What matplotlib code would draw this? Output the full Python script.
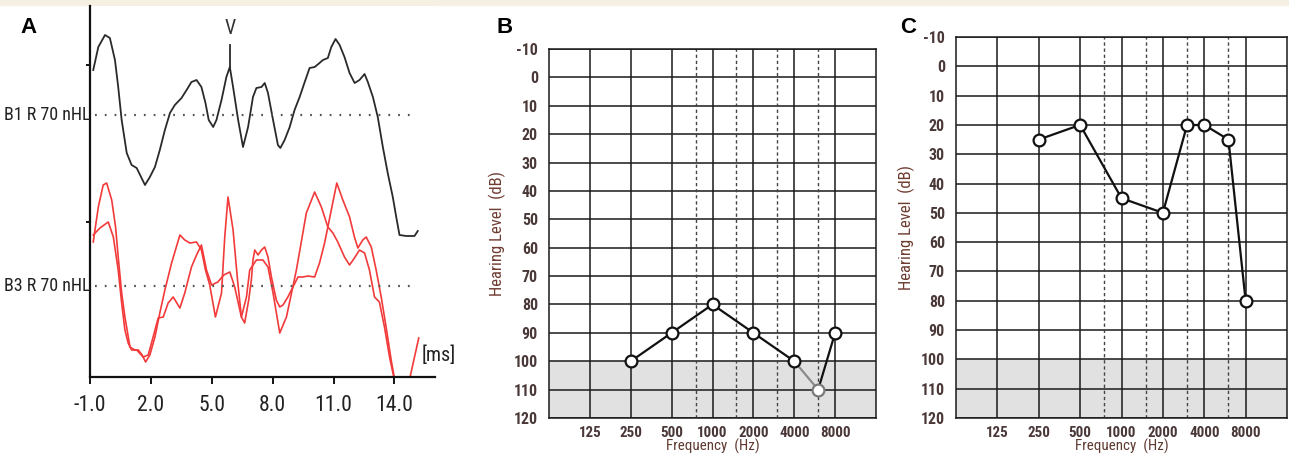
import numpy as np
import matplotlib
matplotlib.use('Agg')
import matplotlib.pyplot as plt
from matplotlib import font_manager

# ---- panel A: ABR traces (latency in ms, amplitude relative to each baseline)
b1_ms = [-0.84, -0.59, -0.26, -0.02, 0.23, 0.39, 0.56, 0.81, 1.05, 1.30,
         1.54, 1.71, 1.95, 2.20, 2.44, 2.69, 2.94, 3.18, 3.51, 3.76,
         4.00, 4.25, 4.49, 4.69, 4.85, 5.07, 5.23, 5.48, 5.72, 5.89,
         6.05, 6.30, 6.54, 6.79, 7.03, 7.20, 7.45, 7.61, 7.77, 8.02,
         8.26, 8.38, 8.59, 8.84, 9.08, 9.33, 9.58, 9.82, 10.07, 10.31,
         10.48, 10.72, 10.89, 11.10, 11.30, 11.54, 11.79, 12.04, 12.28, 12.53,
         12.69, 12.94, 13.18, 13.43, 13.67, 13.92, 14.09, 14.25, 14.58, 14.99,
         15.15]
b1_amp = [0.45, 0.68, 0.80, 0.77, 0.55, 0.28, -0.05, -0.38, -0.50, -0.53,
          -0.63, -0.70, -0.62, -0.52, -0.35, -0.15, 0.02, 0.10, 0.17, 0.25,
          0.33, 0.35, 0.28, 0.12, -0.05, -0.12, -0.05, 0.15, 0.38, 0.48,
          0.28, -0.05, -0.32, -0.12, 0.18, 0.27, 0.28, 0.32, 0.22, -0.05,
          -0.30, -0.33, -0.25, -0.12, 0.05, 0.18, 0.33, 0.47, 0.48, 0.52,
          0.55, 0.57, 0.68, 0.76, 0.70, 0.58, 0.42, 0.32, 0.35, 0.41,
          0.33, 0.18, -0.02, -0.32, -0.58, -0.82, -1.02, -1.20, -1.21, -1.21,
          -1.16]

b3a_ms = [-0.84, -0.59, -0.35, -0.18, 0.07, 0.26, 0.39, 0.56, 0.72, 0.97,
          1.21, 1.38, 1.57, 1.74, 1.95, 2.20, 2.44, 2.69, 3.02, 3.43,
          3.67, 3.92, 4.25, 4.49, 4.69, 4.90, 5.18, 5.48, 5.64, 5.80,
          6.05, 6.27, 6.46, 6.62, 6.82, 6.95, 7.03, 7.12, 7.28, 7.45,
          7.61, 7.77, 7.94, 8.18, 8.35, 8.51, 8.75, 9.00, 9.25, 9.49,
          9.74, 10.07, 10.31, 10.56, 10.89, 11.16, 11.46, 11.79, 12.03, 12.20,
          12.44, 12.61, 12.86, 13.10, 13.35, 13.59, 13.84, 14.04, 14.17, 14.58,
          14.74, 14.99, 15.20]
b3a_amp = [0.44, 0.79, 1.01, 1.03, 0.86, 0.59, 0.29, -0.07, -0.31, -0.61,
           -0.64, -0.64, -0.69, -0.76, -0.69, -0.51, -0.27, -0.04, 0.23, 0.51,
           0.46, 0.43, 0.44, 0.36, 0.16, 0.01, -0.31, -0.07, 0.49, 0.89,
           0.56, 0.06, -0.31, -0.37, -0.14, 0.06, 0.26, 0.36, 0.31, 0.36,
           0.39, 0.29, 0.09, -0.14, -0.21, -0.19, -0.11, -0.01, 0.09, 0.09,
           0.10, 0.09, 0.23, 0.43, 0.76, 1.03, 0.86, 0.69, 0.49, 0.38,
           0.46, 0.49, 0.39, 0.16, -0.11, -0.41, -0.74, -0.97, -1.17, -1.17,
           -0.94, -0.71, -0.52]

b3b_ms = [-0.84, -0.51, -0.10, 0.15, 0.39, 0.56, 0.72, 0.88, 1.05, 1.30,
          1.62, 1.87, 2.11, 2.36, 2.61, 2.85, 3.10, 3.43, 3.67, 4.00,
          4.25, 4.49, 4.74, 4.99, 5.30, 5.59, 5.89, 6.13, 6.46, 6.71,
          6.87, 7.20, 7.52, 7.77, 8.02, 8.35, 8.68, 9.17, 9.66, 10.07,
          10.40, 10.72, 10.97, 11.21, 11.54, 11.79, 12.03, 12.28, 12.53, 12.77,
          13.02, 13.26, 13.51, 13.76, 14.00, 14.17]
b3b_amp = [0.51, 0.58, 0.64, 0.49, 0.16, -0.17, -0.44, -0.57, -0.64, -0.64,
           -0.71, -0.69, -0.51, -0.32, -0.31, -0.17, -0.11, -0.22, -0.07, 0.19,
           0.31, 0.41, 0.16, 0.01, 0.04, 0.11, 0.14, -0.01, -0.31, -0.11,
           0.16, 0.26, 0.26, 0.19, -0.07, -0.47, -0.31, 0.16, 0.73, 0.94,
           0.79, 0.59, 0.53, 0.44, 0.29, 0.21, 0.28, 0.36, 0.33, 0.16,
           -0.11, -0.16, -0.41, -0.71, -0.94, -1.17]

b3_offset = -1.71
wave_v = (5.89, 0.48, 0.70)  # latency, trace value, marker top
xticks_a = [-1.0, 2.0, 5.0, 8.0, 11.0, 14.0]

# ---- panels B and C: audiograms (Hz, dB HL)
freqs_b = [250, 500, 1000, 2000, 4000, 6000, 8000]
hl_b = [100, 90, 80, 90, 100, 110, 90]
faint_b = [6000]
freqs_c = [250, 500, 1000, 2000, 3000, 4000, 6000, 8000]
hl_c = [25, 20, 45, 50, 20, 20, 25, 80]
faint_c = []
octave_freqs = [125, 250, 500, 1000, 2000, 4000, 8000]
mid_freqs = [750, 1500, 3000, 6000]
hl_ticks = list(range(-10, 121, 10))

# pick a narrow face if one is installed, otherwise Liberation Sans a bit smaller
names = {f.name for f in font_manager.fontManager.ttflist}
narrow, k = None, 1.0
for cand in ['Liberation Sans Narrow', 'Roboto Condensed', 'Open Sans Condensed',
             'Noto Sans Condensed', 'DejaVu Sans Condensed']:
    if cand in names:
        narrow, k = [cand, 'DejaVu Sans'], 1.2
        break
if narrow is None:
    narrow = ['Liberation Sans', 'DejaVu Sans']

W, H = 1289, 459
fig = plt.figure(figsize=(W / 100, H / 100), dpi=100)
fig.add_artist(plt.Rectangle((0, 1 - 5 / H), 1, 5 / H, transform=fig.transFigure,
                             color='#f5f0e1', zorder=0))


def fbox(l, t, r, b):
    return [l / W, 1 - b / H, (r - l) / W, (b - t) / H]


# ---------------- A ----------------
axA = fig.add_axes(fbox(90, 6, 435, 377))
axA.set_xlim(-1, 16)
axA.set_ylim(-2.62, 1.09)
axA.plot(b1_ms, b1_amp, color='#2a2a2a', lw=1.3)
axA.plot(b3a_ms, np.array(b3a_amp) + b3_offset, color='#f23a3a', lw=1.2)
axA.plot(b3b_ms, np.array(b3b_amp) + b3_offset, color='#f23a3a', lw=1.2)
for base in [0, b3_offset]:
    axA.plot([-0.75, 14.9], [base, base], color='#555555', lw=1.6,
             linestyle=(0, (0.8, 3.6)))
axA.plot([wave_v[0], wave_v[0]], [wave_v[1], wave_v[2]], color='#2a2a2a', lw=1.3)
axA.text(wave_v[0], wave_v[2] + 0.17, 'V', ha='center', va='center', fontsize=12 * k,
         family=narrow, color='#333333')
axA.text(-1.0, 0, 'B1 R 70 nHL', ha='right', va='center', fontsize=10.8 * k,
         family=narrow, color='#222222', clip_on=False)
axA.text(-1.0, b3_offset, 'B3 R 70 nHL', ha='right', va='center', fontsize=10.8 * k,
         family=narrow, color='#222222', clip_on=False)
axA.text(15.35, -2.40, '[ms]', ha='left', va='center', fontsize=12 * k,
         family=narrow, color='#222222', clip_on=False)
for s in ['top', 'right']:
    axA.spines[s].set_visible(False)
for s in ['left', 'bottom']:
    axA.spines[s].set_linewidth(1.6)
    axA.spines[s].set_color('#111111')
axA.set_xticks(xticks_a, ['%.1f' % t for t in xticks_a])
axA.set_yticks([0.5, -1.07], ['', ''])
axA.tick_params(axis='x', length=5, width=1.3, pad=8, labelsize=13 * k,
                labelcolor='#222222')
axA.tick_params(axis='y', length=3, width=1.3)
for lab in axA.get_xticklabels():
    lab.set_family(narrow)
fig.text(20 / W, 1 - 33 / H, 'A', fontsize=16, fontweight='bold', va='baseline',
         family=['Liberation Sans', 'DejaVu Sans'])


# ---------------- B, C ----------------
def audiogram(box, freqs, levels, faint, letter, letter_x, ylabel_x):
    ax = fig.add_axes(fbox(*box))
    ax.set_xscale('log', base=2)
    ax.set_xlim(62.5, 16000)
    ax.set_ylim(120, -10)
    ax.axhspan(100, 120, color='#e1e1e1', zorder=0)
    for lv in hl_ticks:
        ax.axhline(lv, color='#1a1a1a', lw=1.1, zorder=1)
    for f in octave_freqs:
        ax.axvline(f, color='#1a1a1a', lw=1.1, zorder=1)
    for f in mid_freqs:
        ax.axvline(f, color='#444444', lw=1.0, linestyle=(0, (2.4, 2.0)), zorder=1)
    for i in range(len(freqs) - 1):
        col = '#8a8a8a' if freqs[i + 1] in faint else '#111111'
        ax.plot(freqs[i:i + 2], levels[i:i + 2], color=col, lw=1.6, zorder=2)
    for f, lv in zip(freqs, levels):
        ec = '#7a7a7a' if f in faint else '#111111'
        ax.plot([f], [lv], marker='o', ms=8.5, mfc='white', mec=ec, mew=1.6, zorder=3)
    for s in ax.spines.values():
        s.set_linewidth(1.1)
        s.set_color('#1a1a1a')
    ax.set_yticks(hl_ticks, [str(v) for v in hl_ticks])
    ax.set_xticks(octave_freqs, [str(f) for f in octave_freqs])
    ax.minorticks_off()
    ax.tick_params(length=0, labelcolor='#4a3838')
    ax.tick_params(axis='x', labelsize=9 * k, pad=6)
    ax.tick_params(axis='y', labelsize=9.5 * k, pad=8)
    for lab in ax.get_xticklabels() + ax.get_yticklabels():
        lab.set_family(narrow)
        lab.set_fontweight('bold')
    ax.set_xlabel('Frequency  (Hz)', fontsize=9 * k, color='#5e3a30', labelpad=-1,
                  family=narrow)
    ax.set_ylabel('Hearing Level  (dB)', fontsize=10 * k, color='#6e3b30',
                  family=narrow)
    ax.yaxis.set_label_coords(ylabel_x, 0.5)
    fig.text(letter_x / W, 1 - 33 / H, letter, fontsize=16, fontweight='bold',
             va='baseline', family=['Liberation Sans', 'DejaVu Sans'])
    return ax


audiogram((549, 49, 876, 418), freqs_b, hl_b, faint_b, 'B', 497, -0.13)
audiogram((956, 37, 1287, 418), freqs_c, hl_c, faint_c, 'C', 900, -0.125)

fig.savefig('out.png', dpi=100)
